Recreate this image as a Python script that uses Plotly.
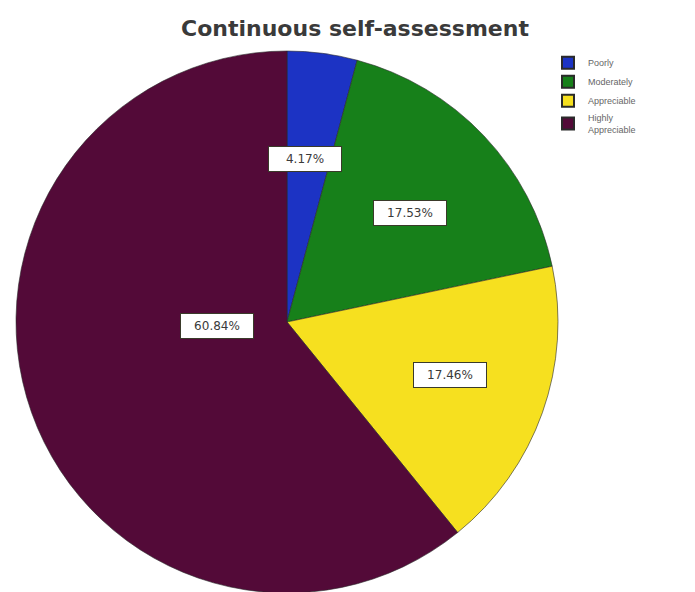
import numpy as np
import plotly.graph_objects as go

labels = ['Poorly', 'Moderately', 'Appreciable', 'Highly<br>Appreciable']
values = [4.17, 17.53, 17.46, 60.84]
colors = ['#1c33c4', '#17801a', '#f6e01f', '#530a38']
title = 'Continuous self-assessment'

W, H = 695, 592

# pie placement (pixels in figure space)
cx, cy, R = 279, 314, 271
dom_x = [(cx - R) / W, (cx + R) / W]
dom_y = [1 - (cy + R) / H, 1 - (cy - R) / H]

fig = go.Figure()
fig.add_trace(
    go.Pie(
        labels=labels,
        values=values,
        sort=False,
        direction='clockwise',
        rotation=0,
        textinfo='none',
        hoverinfo='label+percent',
        marker={'colors': colors, 'line': {'color': '#2a2a2a', 'width': 0.6}},
        domain={'x': dom_x, 'y': dom_y},
    )
)

# Percent labels in white boxes, placed near each slice's mid angle
radial = [0.653, 0.607, 0.633, 0.395]
shift = [-1.7, 1.8, -1.5, 17.5]

cum = np.cumsum([0] + values)
for i, v in enumerate(values):
    mid = np.radians((cum[i] + v / 2) / 100 * 360 + shift[i])
    px_x = cx + radial[i] * R * np.sin(mid)
    px_y = cy - radial[i] * R * np.cos(mid)
    fig.add_annotation(
        x=px_x / W, y=1 - px_y / H, xref='paper', yref='paper',
        text=f'{v:.2f}%', showarrow=False,
        width=68, height=20,
        font={'size': 12, 'color': '#3a3a3a', 'family': 'DejaVu Sans'},
        bgcolor='white', bordercolor='#3a3a2a', borderwidth=1, borderpad=2,
    )

fig.update_layout(
    width=W, height=H,
    margin={'l': 0, 'r': 0, 't': 0, 'b': 0},
    paper_bgcolor='white',
    title={'text': f'<b>{title}</b>', 'x': 0.4993, 'y': 0.966,
           'xanchor': 'center', 'yanchor': 'middle',
           'font': {'size': 22, 'color': '#3a3a3a', 'family': 'DejaVu Sans'}},
    legend={'x': 0.777, 'y': 0.932, 'xanchor': 'left', 'yanchor': 'top',
            'font': {'size': 9, 'color': '#666666', 'family': 'Arial'},
            'itemsizing': 'constant', 'tracegroupgap': 0},
)

fig.write_html('out.html')
